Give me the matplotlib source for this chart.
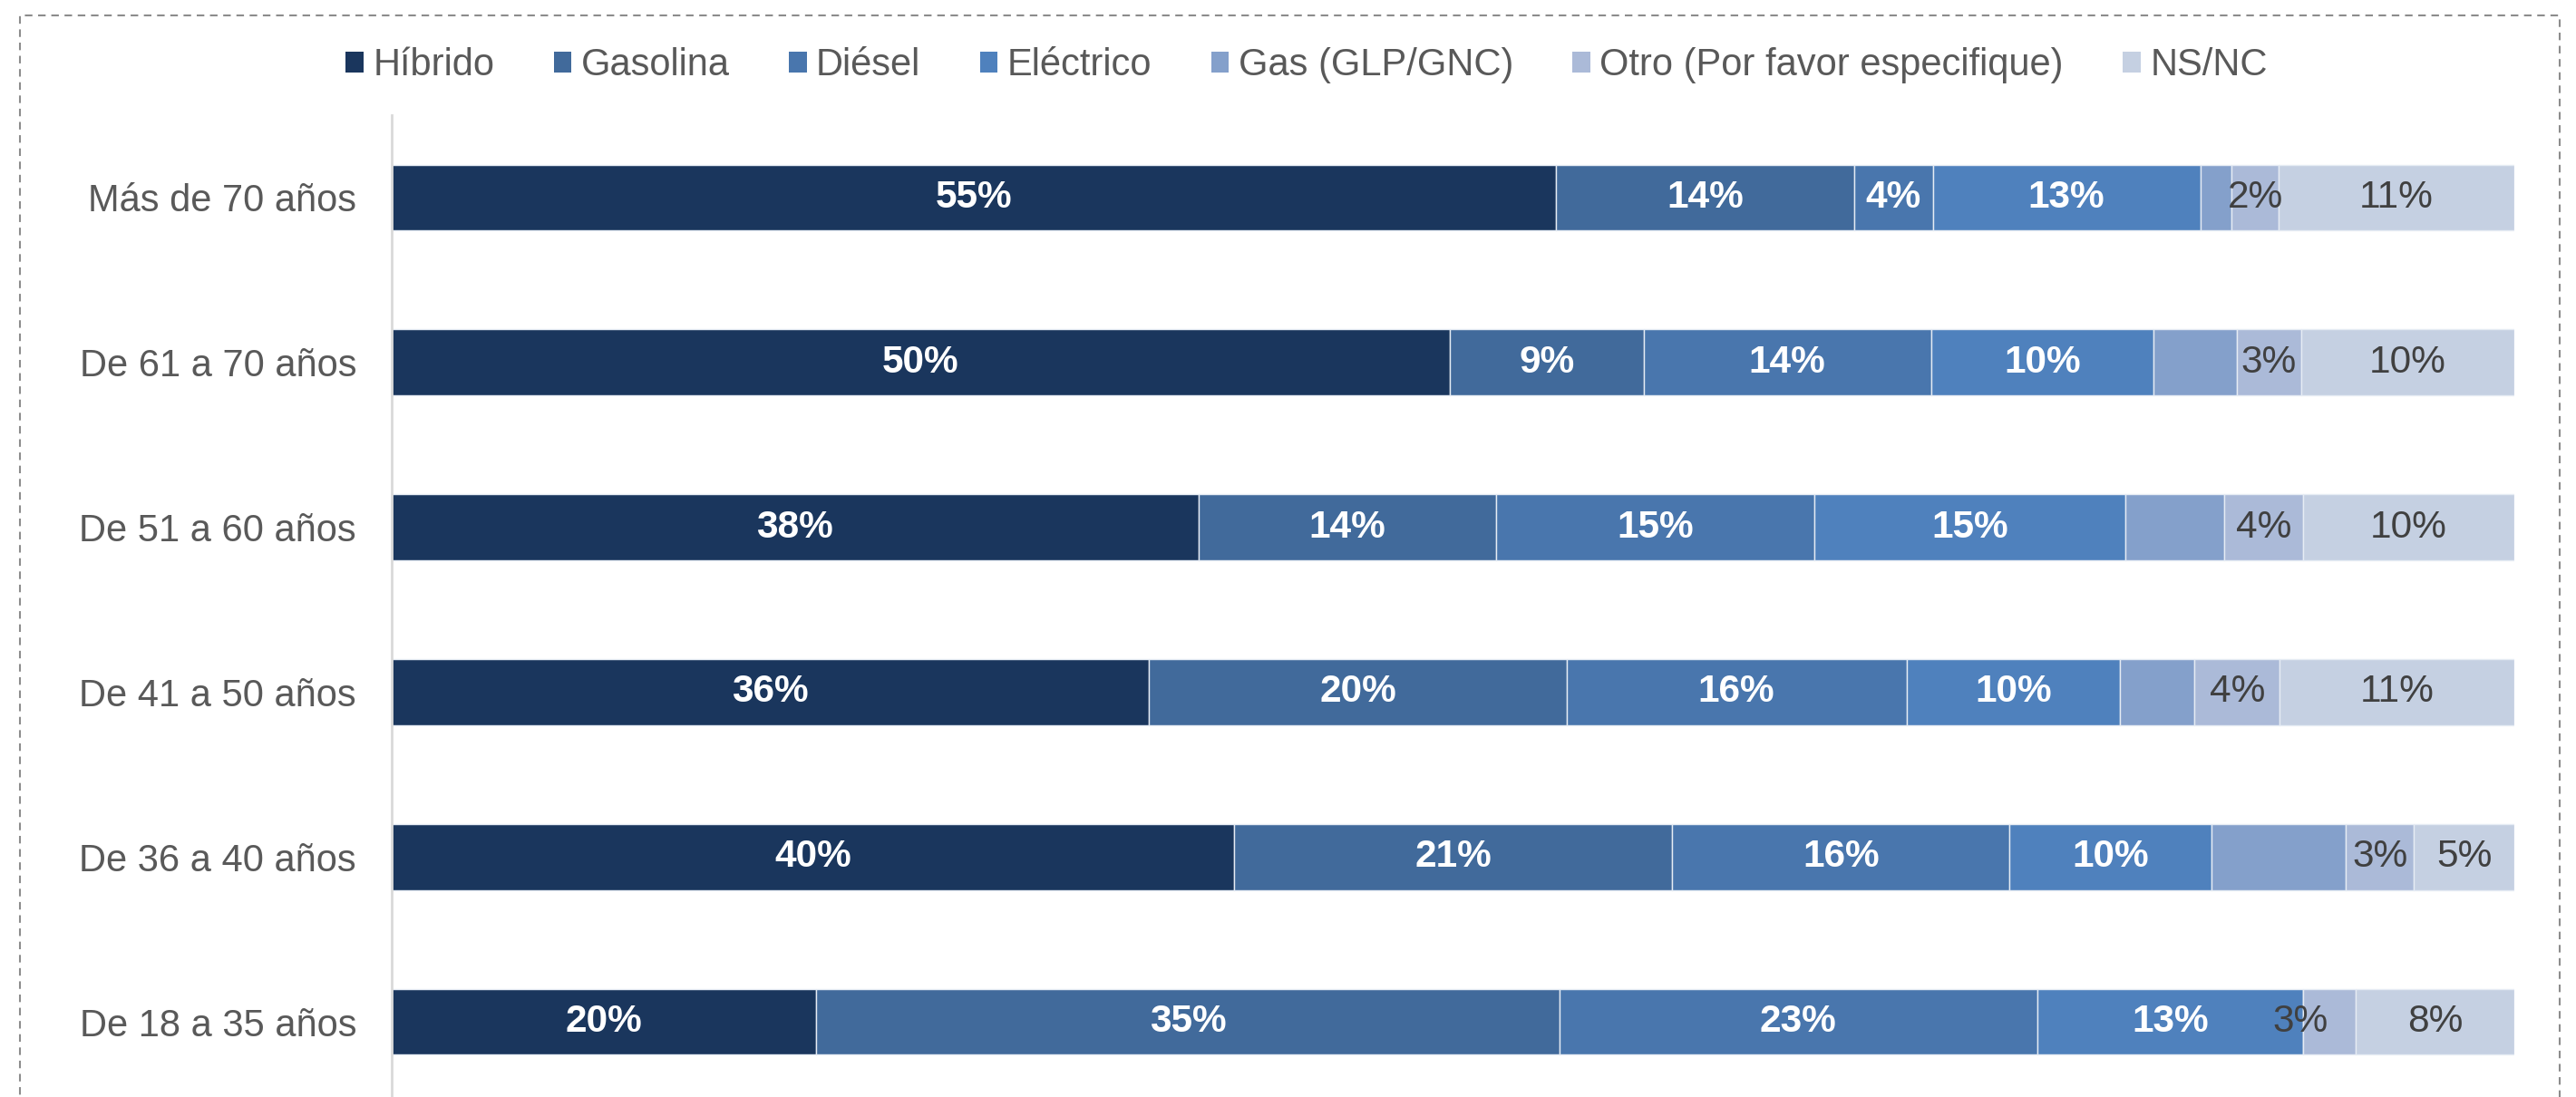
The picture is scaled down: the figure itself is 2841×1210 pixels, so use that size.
import matplotlib
matplotlib.use("Agg")
import matplotlib.pyplot as plt
from matplotlib.patches import Rectangle
import numpy as np

plt.rcParams['font.family'] = ['Liberation Sans', 'DejaVu Sans']

categories = ["Más de 70 años", "De 61 a 70 años", "De 51 a 60 años",
              "De 41 a 50 años", "De 36 a 40 años", "De 18 a 35 años"]
series = ["Híbrido", "Gasolina", "Diésel", "Eléctrico", "Gas (GLP/GNC)",
          "Otro (Por favor especifique)", "NS/NC"]

hibrido   = [54.85, 49.85, 38.00, 35.68, 39.67, 20.00]
gasolina  = [14.05,  9.13, 14.01, 19.66, 20.66, 35.00]
diesel    = [ 3.70, 13.54, 15.02, 16.02, 15.89, 22.53]
electrico = [12.60, 10.48, 14.65, 10.06,  9.53, 12.51]
gas       = [ 1.49,  3.93,  4.65,  3.51,  6.31,  0.00]
otro      = [ 2.21,  3.03,  3.70,  4.02,  3.20,  2.49]
nsnc      = [11.10, 10.04,  9.97, 11.05,  4.74,  7.47]

lab_hibrido   = [55, 50, 38, 36, 40, 20]
lab_gasolina  = [14, 9, 14, 20, 21, 35]
lab_diesel    = [4, 14, 15, 16, 16, 23]
lab_electrico = [13, 10, 15, 10, 10, 13]
lab_gas       = [None, None, None, None, None, None]
lab_otro      = [2, 3, 4, 4, 3, 3]
lab_nsnc      = [11, 10, 10, 11, 5, 8]

values = [hibrido, gasolina, diesel, electrico, gas, otro, nsnc]
labels = [lab_hibrido, lab_gasolina, lab_diesel, lab_electrico, lab_gas, lab_otro, lab_nsnc]
colors = ["#1A365D", "#416A9B", "#4976AD", "#4F81BD", "#84A0CB", "#ABBAD8", "#C5D0E2"]
label_styles = [("white", "bold")] * 4 + [("#404040", "normal")] * 3

W, H = 2841, 1210
fig = plt.figure(figsize=(W / 100, H / 100), dpi=100)
ax = fig.add_axes([432 / W, -8 / H, 2341 / W, 1091 / H])

y = np.arange(len(categories))
left = np.zeros(len(categories))
for s_i, (name, vals, col) in enumerate(zip(series, values, colors)):
    vals = np.array(vals, dtype=float)
    ax.barh(y, vals, left=left, height=0.4, color=col, edgecolor="#E6ECF4",
            linewidth=1.0, label=name)
    tcol, tw = label_styles[s_i]
    for i, (v, lab) in enumerate(zip(vals, labels[s_i])):
        if lab is None:
            continue
        xc = left[i] + v / 2
        if v < 2.6 and s_i == 5 and i == len(categories) - 1:
            xc = left[i] - 0.1
        ax.text(xc, y[i], f"{lab}%", ha="center", va="center",
                color=tcol, fontsize=30.5, fontweight=tw)
    left += vals

ax.set_xlim(0, 100)
ax.set_ylim(-0.5, len(categories) - 0.5)
ax.invert_yaxis()
ax.set_yticks(y)
ax.set_yticklabels(categories, fontsize=30, color="#595959")
ax.tick_params(axis="y", length=0, pad=28)
ax.set_xticks([])
for sp in ["top", "right", "bottom"]:
    ax.spines[sp].set_visible(False)
ax.spines["left"].set_color("#D9D9D9")
ax.spines["left"].set_linewidth(2)

handles, labs = ax.get_legend_handles_labels()
leg = fig.legend(handles, labs, loc="center", bbox_to_anchor=(1441 / W, 1 - 72 / H),
                 ncol=7, frameon=False, fontsize=30, handlelength=0.47,
                 handleheight=0.47, handletextpad=0.25, columnspacing=1.57)
for t in leg.get_texts():
    t.set_color("#595959")
for h in leg.legend_handles:
    h.set_edgecolor("none")

border = Rectangle((22 / W, -0.05), (2823 - 22) / W, 1.05 - 17 / H,
                   transform=fig.transFigure, fill=False, edgecolor="#8C8C8C",
                   linestyle=(0, (4, 3)), linewidth=1.5, clip_on=False)
fig.patches.append(border)

fig.savefig("out.png", dpi=100)
